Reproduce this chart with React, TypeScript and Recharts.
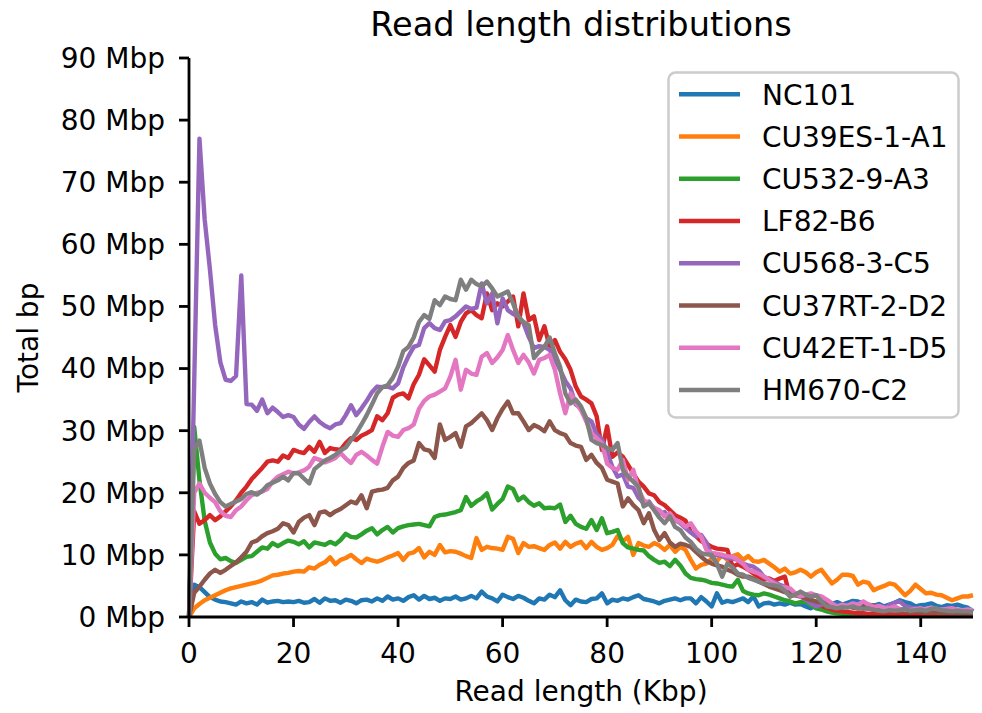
import React from 'react';
import { LineChart, Line, XAxis, YAxis, Legend } from 'recharts';

const FONT = '"DejaVu Sans", sans-serif';

// bin positions, Kbp
const readLengthKbp: number[] = Array.from({ length: 151 }, (_, i) => i);

const xTicks = [0, 20, 40, 60, 80, 100, 120, 140];
const yTicks = [0, 10, 20, 30, 40, 50, 60, 70, 80, 90];

const seriesNames = ['NC101', 'CU39ES-1-A1', 'CU532-9-A3', 'LF82-B6', 'CU568-3-C5', 'CU37RT-2-D2', 'CU42ET-1-D5', 'HM670-C2'];
const seriesColors = ['#1f77b4', '#ff7f0e', '#2ca02c', '#d62728', '#9467bd', '#8c564b', '#e377c2', '#7f7f7f'];

// Total bp per bin, Mbp
const nc101 = [
  0, 5.2, 4.8, 4.0, 3.2, 2.8, 2.5, 2.4, 2.2, 2.0,
  2.5, 2.2, 2.4, 2.0, 2.8, 2.3, 2.5, 2.6, 2.4, 2.5,
  2.4, 2.6, 2.3, 2.4, 2.9, 2.3, 3.0, 2.6, 2.7, 2.3,
  2.8, 2.6, 2.2, 2.7, 2.8, 2.5, 3.0, 2.6, 3.3, 2.8,
  3.0, 2.6, 3.2, 3.5, 2.8, 3.4, 2.9, 3.1, 2.6, 3.0,
  2.9, 3.3, 2.8, 3.0, 3.4, 3.0, 4.1, 3.3, 3.0, 2.5,
  3.6, 3.2, 2.9, 3.4, 3.1, 2.6, 2.2, 3.0, 2.8, 3.6,
  3.2, 4.3, 2.7, 1.9, 2.8, 2.5, 2.4, 2.9, 3.0, 3.8,
  2.2, 2.8, 2.6, 3.0, 2.8, 3.2, 3.5, 2.9, 2.7, 2.5,
  2.2, 2.6, 2.8, 3.0, 2.7, 3.0, 3.0, 2.2, 3.2, 2.5,
  1.7, 3.8, 2.3, 2.6, 2.4, 2.7, 3.0, 2.4, 3.3, 1.7,
  2.2, 2.3, 2.0, 2.2, 2.0, 2.3, 2.0, 2.1, 1.7, 1.4,
  2.0, 3.0, 2.4, 2.1, 2.4, 2.0, 2.3, 2.6, 2.5, 2.2,
  2.0, 1.8, 2.1, 1.7, 2.0, 2.3, 2.7, 2.4, 2.2, 1.7,
  1.9, 2.0, 2.2, 1.8, 1.6, 1.9, 1.8, 2.0, 1.7, 1.5, 0.9,
];

const cu39es = [
  0, 1.4, 2.1, 2.7, 3.1, 3.5, 3.9, 4.3, 4.6, 4.8,
  5.0, 5.2, 5.4, 5.6, 5.9, 6.3, 6.7, 6.8, 7.0, 7.1,
  7.3, 7.4, 7.3, 8.0, 7.8, 8.4, 8.8, 9.6, 8.5, 9.2,
  9.5, 10.0, 9.3, 8.7, 9.4, 9.1, 8.9, 9.2, 9.6, 9.9,
  10.3, 9.2, 10.2, 10.4, 11.1, 9.6, 10.5, 10.0, 11.6, 10.4,
  10.6, 10.5, 10.2, 9.8, 9.5, 12.7, 10.8, 11.3, 11.1, 11.0,
  10.8, 12.9, 12.6, 10.3, 11.9, 11.3, 11.4, 11.1, 10.8, 11.6,
  12.0, 11.0, 12.1, 11.3, 11.8, 12.1, 11.1, 12.1, 11.3, 10.8,
  11.1, 11.6, 13.0, 12.2, 12.9, 10.0, 11.9, 11.5, 11.3, 11.9,
  11.5, 10.8, 11.6, 10.5, 11.3, 10.8, 9.2, 7.8, 8.4, 8.6,
  9.4, 9.0, 10.0, 9.2, 9.8, 10.1, 9.2, 9.8, 9.0, 8.9,
  9.2, 8.6, 8.0, 7.3, 7.8, 7.0, 7.2, 7.6, 7.2, 6.5,
  7.2, 7.6, 6.5, 5.4, 6.0, 6.8, 6.8, 6.6, 5.2, 5.7,
  5.5, 4.3, 4.7, 5.0, 5.4, 5.2, 4.4, 3.5, 4.2, 5.2,
  4.5, 3.8, 3.9, 3.6, 3.5, 3.1, 2.7, 3.0, 3.3, 3.3, 3.5,
];

const cu532 = [
  0, 30.6, 22.0, 15.5, 12.0, 10.2, 9.3, 9.5, 9.0, 8.7,
  9.2, 9.7, 9.8, 10.5, 11.2, 11.0, 11.9, 11.4, 11.9, 12.3,
  12.1, 11.7, 12.2, 11.2, 12.0, 11.8, 11.6, 12.1, 11.7, 12.4,
  13.4, 12.9, 12.8, 13.3, 13.9, 14.3, 13.3, 14.0, 14.5, 13.6,
  14.3, 14.6, 14.8, 14.9, 15.0, 14.8, 14.6, 16.1, 16.4, 16.5,
  16.7, 16.9, 17.2, 19.3, 17.9, 18.6, 19.1, 19.9, 17.3, 18.2,
  19.0, 21.0, 20.6, 18.8, 19.4, 18.5, 17.9, 18.3, 17.5, 17.6,
  17.5, 18.1, 15.3, 16.3, 15.0, 14.5, 14.2, 15.6, 14.0, 15.9,
  13.5, 13.7, 14.0, 11.9, 11.2, 11.0, 10.8, 10.7, 9.8, 9.2,
  8.7, 8.9, 8.2, 9.2, 8.3, 7.0, 6.3, 6.1, 6.0, 5.8,
  5.5, 5.4, 5.2, 5.0, 4.9, 6.0, 4.2, 3.8, 3.6, 3.5,
  3.8, 3.6, 3.3, 3.0, 2.7, 2.5, 2.2, 2.4, 2.5, 1.9,
  1.4, 1.2, 0.9, 0.7, 0.6, 0.5, 0.4, 0.4, 0.3, 0.3,
  0.2, 0.3, 0.2, 0.2, 0.3, 0.2, 0.2, 0.2, 0.3, 0.2,
  0.2, 0.2, 0.2, 0.3, 0.2, 0.2, 0.2, 0.2, 0.2, 0.2, 0.2,
];

const lf82 = [
  0, 17.0, 15.0, 15.6, 16.4, 15.6, 16.2, 17.0, 17.8, 18.8,
  20.0, 21.0, 22.2, 23.1, 24.0, 25.0, 25.2, 25.0, 26.0, 25.6,
  26.9, 26.6, 26.4, 27.4, 26.6, 28.2, 26.4, 27.2, 27.0, 26.9,
  28.0, 28.8, 28.5, 29.2, 29.6, 30.1, 32.3, 31.7, 32.8, 35.3,
  35.8, 36.0, 35.2, 37.5, 39.0, 41.5, 40.5, 39.5, 43.0, 45.1,
  47.0, 45.1, 47.5, 48.9, 49.4, 48.6, 48.1, 52.1, 49.4, 50.5,
  50.0, 50.8, 51.6, 46.8, 52.1, 47.8, 48.4, 44.6, 46.8, 43.5,
  44.6, 42.7, 41.5, 39.8, 37.1, 35.5, 35.0, 34.4, 32.3, 26.9,
  30.7, 25.8, 26.5, 25.8, 24.5, 23.1, 21.8, 21.0, 19.9, 19.6,
  18.5, 18.0, 17.2, 16.4, 16.0, 15.5, 13.7, 13.0, 12.2, 11.8,
  11.3, 11.0, 10.9, 10.8, 8.1, 8.5, 8.1, 7.6, 7.0, 6.5,
  6.0, 6.2, 5.8, 6.2, 6.5, 3.3, 3.6, 3.4, 3.3, 2.8,
  2.2, 1.8, 1.5, 1.2, 1.0, 0.9, 0.8, 0.7, 0.6, 0.6,
  0.5, 0.6, 0.5, 0.4, 0.5, 0.6, 0.5, 0.4, 0.5, 0.4,
  0.5, 0.4, 0.5, 0.4, 0.4, 0.5, 0.4, 0.4, 0.5, 0.4, 0.4,
];

const cu568 = [
  0, 38.0, 77.0, 64.0, 56.0, 47.0, 41.0, 38.2, 38.0, 38.8,
  55.0, 34.3, 34.2, 33.2, 35.0, 32.8, 33.7, 33.0, 32.2, 32.5,
  32.2, 31.0, 30.3, 31.4, 32.3, 31.4, 30.8, 30.4, 31.0, 31.2,
  32.5, 34.1, 32.5, 33.6, 34.8, 36.2, 37.1, 37.0, 37.1, 36.8,
  37.6, 40.2, 42.0, 43.5, 43.8, 46.5, 47.3, 46.5, 46.2, 47.6,
  47.8, 48.4, 49.2, 50.0, 49.6, 49.8, 53.7, 50.5, 52.1, 47.3,
  51.3, 49.4, 48.8, 48.4, 47.3, 45.1, 43.3, 43.6, 43.5, 43.0,
  41.5, 39.8, 38.0, 36.8, 34.2, 33.6, 32.0, 31.5, 29.4, 28.6,
  26.5, 24.2, 22.6, 23.0, 21.0, 20.8, 19.2, 18.3, 18.6, 17.4,
  16.7, 16.9, 15.8, 15.6, 15.1, 14.3, 13.6, 13.0, 13.2, 12.0,
  9.7, 10.0, 9.8, 9.5, 9.4, 9.2, 8.6, 8.3, 8.1, 7.5,
  6.5, 6.0, 5.6, 5.2, 4.9, 4.2, 3.8, 3.3, 2.8, 2.2,
  1.7, 2.0, 2.2, 2.0, 1.7, 1.5, 1.8, 1.6, 1.4, 1.5,
  1.3, 1.6, 1.4, 1.2, 1.9, 2.3, 2.5, 1.8, 1.5, 1.3,
  1.2, 1.0, 1.4, 1.1, 1.0, 1.3, 1.4, 1.1, 0.9, 1.0, 0.8,
];

const cu37rt = [
  0, 3.9, 4.9, 6.0, 7.0, 7.6, 7.1, 7.6, 8.2, 8.8,
  9.6, 10.5, 12.0, 12.3, 13.0, 13.5, 13.8, 14.2, 15.1, 14.8,
  13.6, 15.3, 16.0, 16.4, 14.8, 16.8, 17.0, 16.4, 17.0, 17.4,
  18.0, 18.6, 18.3, 19.6, 17.5, 20.2, 20.4, 20.5, 20.8, 22.0,
  22.6, 24.0, 24.8, 25.2, 28.0, 27.0, 26.8, 25.6, 31.0, 28.5,
  29.0, 29.6, 27.4, 30.7, 31.2, 32.0, 32.8, 31.7, 30.1, 32.0,
  33.5, 34.7, 32.8, 32.8, 31.5, 30.1, 30.9, 30.5, 29.9, 31.5,
  30.1, 29.6, 29.3, 28.0, 27.6, 27.4, 25.3, 26.1, 24.8, 24.0,
  22.1, 21.8, 21.5, 17.8, 19.1, 18.0, 17.2, 15.1, 16.7, 14.0,
  12.4, 13.5, 12.0, 11.3, 11.8, 11.6, 11.3, 10.5, 9.7, 9.0,
  8.6, 8.3, 8.1, 7.6, 7.3, 6.8, 6.5, 6.5, 6.2, 5.7,
  5.3, 4.9, 4.6, 4.3, 4.0, 3.8, 3.5, 3.3, 3.0, 2.7,
  2.5, 2.3, 2.2, 2.0, 1.8, 1.6, 1.7, 1.5, 1.4, 1.6,
  1.8, 1.9, 1.4, 1.2, 1.0, 1.1, 0.9, 1.0, 0.8, 0.9,
  0.8, 0.7, 0.8, 0.7, 0.6, 0.7, 0.6, 0.5, 0.6, 0.5, 0.5,
];

const cu42et = [
  0, 20.0, 21.5, 20.0, 19.2, 18.5, 17.0, 16.3, 16.1, 17.2,
  17.8, 18.8, 19.6, 20.0, 20.2, 20.6, 21.8, 22.6, 23.0, 23.4,
  23.1, 23.3, 23.6, 24.2, 25.6, 25.3, 24.9, 25.2, 25.6, 26.4,
  25.5, 24.8, 26.1, 26.6, 26.0, 25.3, 24.7, 27.4, 29.8, 29.2,
  29.0, 30.1, 30.4, 31.0, 33.5, 34.8, 35.5, 35.8, 36.3, 36.8,
  38.7, 41.4, 36.6, 39.8, 39.2, 39.0, 41.9, 42.5, 40.9, 41.8,
  43.0, 45.4, 43.0, 40.9, 42.2, 41.0, 39.2, 41.4, 41.7, 42.2,
  39.8, 36.0, 32.8, 36.0, 34.5, 33.3, 31.5, 29.6, 28.8, 28.0,
  24.7, 24.0, 23.7, 25.3, 22.1, 23.7, 20.5, 18.8, 18.3, 17.6,
  17.2, 16.2, 16.7, 15.6, 15.3, 14.5, 15.1, 13.8, 12.9, 10.8,
  10.3, 10.2, 10.0, 9.8, 9.7, 9.2, 8.6, 7.6, 7.3, 7.0,
  6.5, 6.0, 5.4, 4.9, 4.8, 4.6, 3.8, 3.3, 3.6, 3.8,
  3.5, 3.3, 2.8, 2.2, 1.7, 2.0, 1.8, 2.2, 2.0, 2.5,
  2.0, 1.6, 1.8, 1.5, 1.4, 1.7, 1.3, 1.2, 1.1, 1.3,
  1.4, 1.2, 1.5, 1.3, 1.2, 1.3, 1.4, 1.2, 1.1, 1.2, 1.1,
];

const hm670 = [
  0, 27.0, 28.4, 24.0, 21.5, 19.8, 18.5, 17.8, 18.2, 18.6,
  19.0, 19.8, 20.1, 19.7, 20.3, 21.2, 21.6, 22.0, 22.6, 22.0,
  23.2, 23.1, 22.3, 21.5, 23.8, 24.5, 25.2, 25.6, 26.1, 26.8,
  27.3, 28.5, 29.6, 31.0, 32.5, 34.2, 36.0, 37.0, 37.3, 38.5,
  40.3, 42.8, 43.5, 45.0, 47.5, 48.6, 48.0, 51.0, 50.2, 51.6,
  51.2, 51.0, 54.3, 52.7, 54.3, 53.6, 53.2, 54.0, 52.9, 51.6,
  52.0, 52.4, 50.5, 48.4, 47.5, 47.0, 41.7, 42.7, 43.5, 45.0,
  42.5, 40.3, 36.0, 34.4, 35.0, 33.9, 32.0, 28.5, 28.0, 27.7,
  27.2, 26.9, 28.0, 23.7, 22.6, 21.8, 21.0, 17.8, 18.3, 17.2,
  16.0, 15.1, 16.2, 14.5, 14.0, 12.8, 12.1, 11.0, 10.3, 10.1,
  10.0, 8.6, 6.5, 8.6, 8.0, 7.0, 6.8, 6.3, 6.0, 5.7,
  5.4, 5.2, 5.1, 4.9, 4.2, 3.3, 3.6, 4.1, 3.6, 3.3,
  3.5, 2.5, 1.7, 1.6, 1.4, 1.6, 1.5, 1.7, 1.4, 1.3,
  1.4, 1.2, 1.0, 0.9, 1.1, 1.0, 1.1, 1.3, 1.0, 1.1,
  1.2, 1.0, 1.3, 1.4, 1.1, 1.0, 0.9, 1.0, 0.9, 0.9, 0.8,
];

const seriesValues = [nc101, cu39es, cu532, lf82, cu568, cu37rt, cu42et, hm670];
const seriesKeys = ['s0', 's1', 's2', 's3', 's4', 's5', 's6', 's7'];

const data = readLengthKbp.map((x, i) => {
  const row: Record<string, number> = { x };
  seriesKeys.forEach((k, j) => {
    row[k] = seriesValues[j][i];
  });
  return row;
});

const LegendBox = () => (
  <svg width={296} height={352} style={{ display: 'block' }}>
    <rect x={2.5} y={2.5} width={290} height={345} rx={7} ry={7} fill="#ffffff" fillOpacity={0.8} stroke="#cccccc" strokeWidth={2.5} />
    {seriesNames.map((name, i) => (
      <g key={name}>
        <line x1={13} x2={74} y1={24.3 + i * 42.24} y2={24.3 + i * 42.24} stroke={seriesColors[i]} strokeWidth={4.4} />
        <text x={96} y={24.3 + i * 42.24 + 10.2} fontSize={28} fontFamily={FONT} fill="#000">{name}</text>
      </g>
    ))}
  </svg>
);

const XLabel = (props: any) => {
  const vb = props.viewBox || { x: 189, width: 784 };
  return (
    <text x={vb.x + vb.width / 2} y={701} textAnchor="middle" fontSize={28} fontFamily={FONT} fill="#000">
      Read length (Kbp)
    </text>
  );
};

const YLabel = (props: any) => {
  const vb = props.viewBox || { y: 58, height: 559 };
  const cx = 38;
  const cy = vb.y + vb.height / 2;
  return (
    <text x={cx} y={cy} transform={`rotate(-90, ${cx}, ${cy})`} textAnchor="middle" fontSize={28} fontFamily={FONT} fill="#000">
      Total bp
    </text>
  );
};

export default function App() {
  return (
    <div style={{ position: 'absolute', left: 0, top: 0, width: 982, height: 713, background: '#fff' }}>
      <svg width={982} height={60} style={{ position: 'absolute', left: 0, top: 0 }}>
        <text x={581} y={36} textAnchor="middle" fontSize={33.6} fontFamily={FONT} fill="#000">
          Read length distributions
        </text>
      </svg>
      <LineChart width={982} height={713} data={data} margin={{ top: 58, right: 9, bottom: 0, left: 0 }}>
        <XAxis
          dataKey="x"
          type="number"
          domain={[0, 150]}
          ticks={xTicks}
          interval={0}
          height={96}
          tickSize={10}
          tickMargin={16}
          axisLine={{ stroke: '#000', strokeWidth: 2.8 }}
          tickLine={{ stroke: '#000', strokeWidth: 2.8 }}
          tick={{ fontSize: 28, fontFamily: FONT, fill: '#000' }}
          label={<XLabel />}
        />
        <YAxis
          type="number"
          domain={[0, 90]}
          ticks={yTicks}
          interval={0}
          width={189}
          tickSize={10}
          tickMargin={14}
          tickFormatter={(v: number) => `${v} Mbp`}
          axisLine={{ stroke: '#000', strokeWidth: 2.8 }}
          tickLine={{ stroke: '#000', strokeWidth: 2.8 }}
          tick={{ fontSize: 28, fontFamily: FONT, fill: '#000' }}
          label={<YLabel />}
        />
        {seriesKeys.map((k, j) => (
          <Line
            key={k}
            dataKey={k}
            name={seriesNames[j]}
            type="linear"
            stroke={seriesColors[j]}
            strokeWidth={4.4}
            strokeLinejoin="round"
            dot={false}
            activeDot={false}
            isAnimationActive={false}
          />
        ))}
        <Legend
          layout="vertical"
          align="center"
          verticalAlign="middle"
          content={<LegendBox />}
          wrapperStyle={{ left: 666, top: 70, width: 296, height: 352 }}
        />
      </LineChart>
    </div>
  );
}
